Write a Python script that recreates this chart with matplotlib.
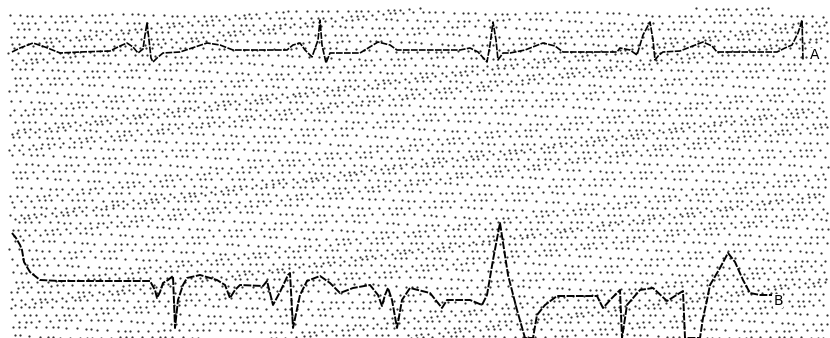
import numpy as np
from matplotlib import pyplot as plt

# trace A (upper lead), pixel coordinates
a_x = [12, 20, 33, 45, 60, 80, 110, 120, 127, 133, 138, 143, 145, 147, 149, 151, 153, 157, 163,
       180, 207, 220, 233, 260, 287, 293, 300, 305, 312, 318, 320, 322, 326, 330, 345, 360,
       378, 390, 397, 430, 460, 470, 478, 487, 490, 493, 496, 498, 503, 510, 525, 543, 555,
       563, 590, 617, 620, 630, 637, 640, 643, 650, 653, 655, 659, 663, 680, 703, 712, 717,
       745, 777, 785, 792, 798, 800, 802, 803]
a_y = [52, 48, 43, 47, 53, 52, 51, 46, 43, 47, 53, 49, 35, 23, 40, 58, 62, 58, 53,
       52, 43, 45, 50, 50, 50, 45, 43, 50, 57, 40, 20, 45, 63, 53, 53, 53,
       42, 45, 50, 50, 50, 48, 52, 62, 45, 22, 40, 60, 53, 53, 50, 43, 46,
       52, 52, 52, 48, 50, 55, 45, 35, 22, 40, 60, 55, 52, 51, 42, 46, 52,
       52, 52, 48, 45, 33, 27, 20, 60]

# trace B (lower lead)
b_x = [12, 16, 20, 22, 24, 30, 40, 60, 100, 150, 155, 157, 160, 163, 168, 173, 175, 178,
       183, 187, 200, 217, 225, 230, 235, 240, 263, 267, 273, 280, 288, 290, 293, 300, 307,
       320, 330, 340, 353, 370, 378, 382, 385, 388, 392, 397, 402, 410, 430, 442, 447, 470,
       482, 487, 493, 500, 508, 517, 525, 533, 537, 545, 557, 580, 597, 603, 612, 620, 622,
       627, 640, 653, 667, 675, 683, 685, 700, 703, 707, 710, 720, 728, 735, 743, 750, 760,
       772]
b_y = [233, 238, 245, 250, 262, 272, 280, 281, 281, 281, 290, 298, 292, 283, 280, 276, 328, 300,
       285, 278, 275, 280, 285, 298, 290, 285, 286, 281, 305, 292, 275, 273, 328, 295, 281,
       276, 283, 293, 288, 285, 295, 306, 295, 288, 300, 328, 300, 288, 293, 308, 300, 300,
       305, 295, 260, 223, 275, 310, 338, 338, 315, 305, 296, 296, 296, 308, 298, 290, 338,
       305, 290, 288, 301, 296, 291, 338, 338, 318, 300, 285, 268, 253, 262, 280, 293, 295,
       295]

labels = ["A", "B"]
label_xy = [(815, 55), (778, 301)]

W, H = 830, 338
fig = plt.figure(figsize=(W / 100, H / 100), dpi=100)
ax = fig.add_axes([0, 0, 1, 1])
ax.set_xlim(0, W)
ax.set_ylim(H, 0)
ax.axis("off")

# wavy dotted paper grid with uneven dot spacing
for i, y0 in enumerate(np.arange(10, 346, 6.6)):
    k = np.arange(0, 110)
    gx = 10 + (i * 2.7) % 8 + 8.0 * k + 2.2 * np.sin(k * 1.37 + i * 0.83)
    gx = gx[gx < 828]
    gy = (y0 + 3.2 * np.sin(gx / 110.0 + i * 0.5)
          + 1.4 * np.sin(gx / 27.0 + i * 1.9) - 0.01 * (gx - 400))
    keep = gy > 8
    ax.scatter(gx[keep], gy[keep], s=2.6, color="#333333", linewidths=0, zorder=1)

ax.plot(a_x, a_y, color="black", linewidth=1.2, linestyle=(0, (4, 0.8)), zorder=3)
ax.plot(b_x, b_y, color="black", linewidth=1.4, linestyle=(0, (4, 0.8)), zorder=3)

for lab, (lx, ly) in zip(labels, label_xy):
    ax.text(lx, ly, lab, fontsize=10, color="black", ha="center", va="center",
            family="DejaVu Sans", zorder=4,
            bbox=dict(facecolor="white", edgecolor="none", pad=0.3))

plt.savefig("out.png", dpi=100)
